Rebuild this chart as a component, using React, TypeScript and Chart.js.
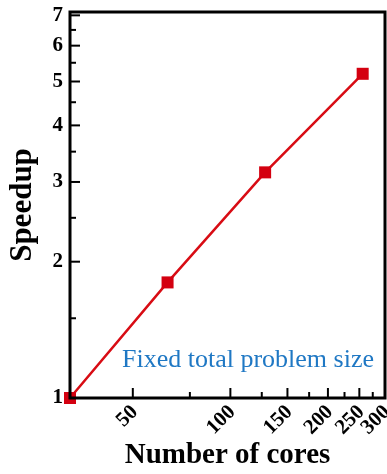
import React, { useEffect, useRef } from "react";
import { Chart, registerables } from "chart.js";

Chart.register(...registerables);

// Strong-scaling run: core counts and measured speedup
const cores = [32, 64, 128, 256];
const speedup = [1, 1.8, 3.15, 5.2];

// Axis tick values (log-log axes)
const xMajorTicks = [50, 100, 150, 200, 250, 300];
const xMinorTicks = [75, 125, 175, 225, 275];
const yMajorTicks = [1, 2, 3, 4, 5, 6, 7];
const yMinorTicks = [1.5, 2.5, 3.5, 4.5, 5.5, 6.5];

const X_MIN = 32;
const X_MAX = 300;
const Y_MIN = 1;
const Y_MAX = 7.12;

const annotationText = "Fixed total problem size";
const SERIF = "'Liberation Serif', 'Times New Roman', serif";

// Frame box plus inward-pointing tick marks
const framePlugin = {
  id: "frameTicks",
  afterDraw(chart: any) {
    const { ctx, chartArea } = chart;
    const xs = chart.scales.x;
    const ys = chart.scales.y;
    const { left, right, top, bottom } = chartArea;
    ctx.save();
    ctx.strokeStyle = "#000";
    ctx.lineWidth = 2;
    const tick = (x1: number, y1: number, x2: number, y2: number) => {
      ctx.beginPath();
      ctx.moveTo(x1, y1);
      ctx.lineTo(x2, y2);
      ctx.stroke();
    };
    xMajorTicks.forEach((v) => {
      const px = xs.getPixelForValue(v);
      tick(px, bottom, px, bottom - 10);
    });
    xMinorTicks.forEach((v) => {
      const px = xs.getPixelForValue(v);
      tick(px, bottom, px, bottom - 6);
    });
    yMajorTicks.forEach((v) => {
      const py = ys.getPixelForValue(v);
      tick(left, py, left + 10, py);
    });
    yMinorTicks.forEach((v) => {
      const py = ys.getPixelForValue(v);
      tick(left, py, left + 6, py);
    });
    ctx.lineWidth = 3;
    ctx.strokeRect(left, top, right - left, bottom - top);

    ctx.fillStyle = "#1f78c4";
    ctx.font = `26px ${SERIF}`;
    ctx.textAlign = "left";
    ctx.textBaseline = "alphabetic";
    ctx.fillText(annotationText, 122, 367);
    ctx.restore();
  },
};

export default function App() {
  const canvasRef = useRef<HTMLCanvasElement | null>(null);

  useEffect(() => {
    document.body.style.margin = "0";
    const canvas = canvasRef.current;
    if (!canvas) return;
    const chart = new Chart(canvas, {
      type: "line",
      data: {
        datasets: [
          {
            data: cores.map((c, i) => ({ x: c, y: speedup[i] })),
            borderColor: "#d80c14",
            borderWidth: 2.5,
            backgroundColor: "#d40010",
            pointStyle: "rect",
            pointRadius: 8.5,
            pointBorderWidth: 0,
            pointBackgroundColor: "#d40010",
            clip: false,
          },
        ],
      },
      options: {
        animation: false,
        responsive: false,
        devicePixelRatio: 1,
        layout: { autoPadding: false, padding: { left: 0, top: 12, right: 2, bottom: 0 } },
        plugins: { legend: { display: false }, tooltip: { enabled: false } },
        scales: {
          x: {
            type: "logarithmic",
            min: X_MIN,
            max: X_MAX,
            afterBuildTicks: (scale: any) => {
              scale.ticks = xMajorTicks.map((v) => ({ value: v }));
            },
            afterFit: (scale: any) => {
              scale.height = 76;
              scale.paddingLeft = 0;
              scale.paddingRight = 0;
            },
            grid: { display: false, drawTicks: false },
            border: { display: false },
            ticks: {
              autoSkip: false,
              minRotation: 45,
              maxRotation: 45,
              padding: 2,
              labelOffset: 2,
              color: "#000",
              font: { family: SERIF, size: 21, weight: "bold" },
              callback: (v: any) => String(v),
            },
            title: {
              display: true,
              text: "Number of cores",
              color: "#000",
              font: { family: SERIF, size: 29, weight: "bold" },
              padding: { top: 0, bottom: 1 },
            },
          },
          y: {
            type: "logarithmic",
            min: Y_MIN,
            max: Y_MAX,
            afterBuildTicks: (scale: any) => {
              scale.ticks = yMajorTicks.map((v) => ({ value: v }));
            },
            afterFit: (scale: any) => {
              scale.width = 70;
              scale.paddingTop = 0;
              scale.paddingBottom = 0;
            },
            grid: { display: false, drawTicks: false },
            border: { display: false },
            ticks: {
              autoSkip: false,
              padding: 7,
              color: "#000",
              font: { family: SERIF, size: 21, weight: "bold" },
              callback: (v: any) => String(v),
            },
            title: {
              display: true,
              text: "Speedup",
              color: "#000",
              font: { family: SERIF, size: 31, weight: "bold" },
              padding: { top: 4, bottom: 0 },
            },
          },
        },
      },
      plugins: [framePlugin],
    });
    return () => chart.destroy();
  }, []);

  return (
    <div style={{ width: 387, height: 474, position: "relative" }}>
      <canvas ref={canvasRef} width={387} height={474} />
    </div>
  );
}
